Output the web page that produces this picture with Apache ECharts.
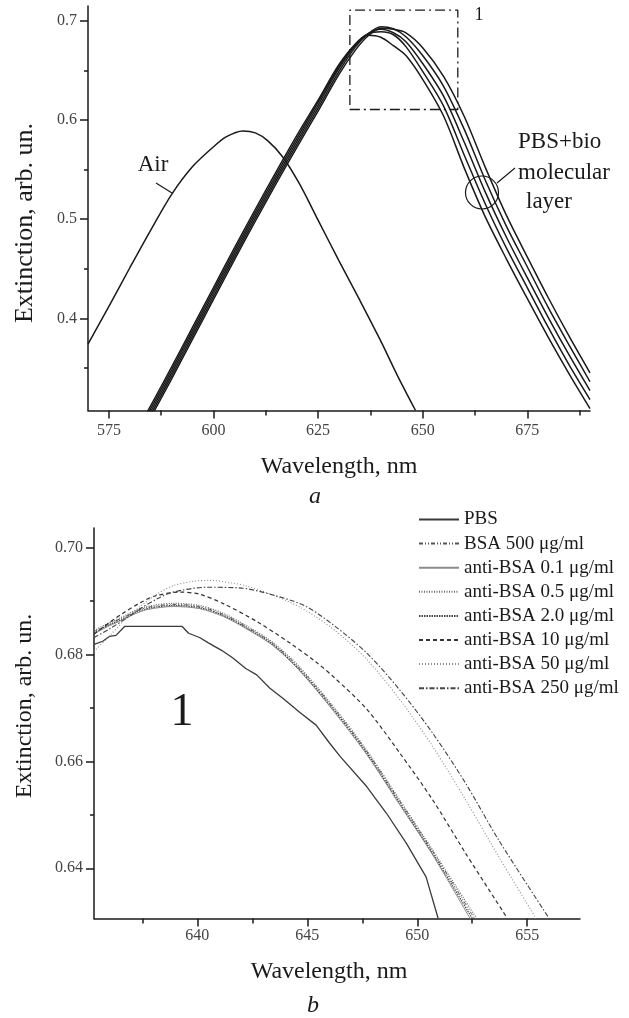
<!DOCTYPE html>
<html>
<head>
<meta charset="utf-8">
<script src="https://cdn.jsdelivr.net/npm/echarts@6/dist/echarts.min.js"></script>
<style>
  html, body { margin: 0; padding: 0; background: #fff; }
  #chart { width: 629px; height: 1018px; }
</style>
</head>
<body>
<div id="chart"></div>
<script>
// ---------- panel a : full spectra (nm, extinction) ----------
const airSpectrum = [[570.0,0.374],[575,0.412],[580,0.451],[585,0.489],[590,0.525],[595,0.553],[600,0.573],[603,0.583],[607,0.589],[610,0.587],[613,0.579],[616.5,0.563],[620.5,0.536],[625,0.499],[630,0.458],[635,0.418],[640,0.377],[644,0.342],[648.3,0.307]];
const layerPBS = [[583,0.297],[585,0.312],[590,0.351],[595,0.391],[600,0.431],[605,0.471],[610,0.510],[615,0.548],[620,0.585],[625,0.620],[630,0.656],[634,0.677],[637,0.6855],[640,0.6835],[643,0.675],[646,0.665],[650,0.641],[655,0.604],[660,0.551],[665,0.502],[670,0.460],[675,0.420],[680,0.381],[685,0.344],[690,0.309]];
const layerBSA = [[583,0.294],[585,0.309],[590,0.348],[595,0.388],[600,0.428],[605,0.468],[610,0.507],[615,0.545],[620,0.582],[625,0.618],[630,0.654],[634,0.677],[637,0.687],[640,0.689],[643,0.686],[646,0.674],[650,0.649],[655,0.614],[660,0.564],[665,0.515],[670,0.471],[675,0.431],[680,0.391],[685,0.353],[690,0.318]];
const layer10 = [[583,0.291],[585,0.306],[590,0.345],[595,0.385],[600,0.425],[605,0.465],[610,0.504],[615,0.542],[620,0.579],[625,0.615],[630,0.652],[634,0.676],[637,0.687],[640,0.6915],[643,0.688],[646,0.679],[650,0.657],[655,0.624],[660,0.577],[665,0.527],[670,0.482],[675,0.441],[680,0.401],[685,0.363],[690,0.327]];
const layer50 = [[583,0.288],[585,0.303],[590,0.342],[595,0.382],[600,0.422],[605,0.462],[610,0.501],[615,0.539],[620,0.576],[625,0.612],[630,0.649],[634,0.674],[637,0.687],[640,0.694],[643,0.692],[646,0.684],[650,0.665],[655,0.634],[660,0.590],[665,0.539],[670,0.493],[675,0.452],[680,0.411],[685,0.373],[690,0.336]];
const layer250 = [[583,0.285],[585,0.300],[590,0.339],[595,0.379],[600,0.419],[605,0.459],[610,0.498],[615,0.536],[620,0.573],[625,0.609],[630,0.646],[634,0.671],[637,0.685],[640,0.6926],[643,0.6915],[646,0.688],[650,0.673],[655,0.644],[660,0.603],[665,0.552],[670,0.504],[675,0.462],[680,0.421],[685,0.382],[690,0.345]];
// dash-dot frame "1" (region enlarged in panel b)
const zoomFrame = [[632.6,0.6106],[658.4,0.6106],[658.4,0.7108],[632.6,0.7108],[632.6,0.6106]];

// ---------- panel b : enlarged peak region ----------
const pbs = [[635.3,0.6819],[635.7,0.6825],[636.0,0.6834],[636.3,0.6836],[636.7,0.6853],[639.3,0.6853],[639.6,0.6840],[640.1,0.6832],[640.5,0.6822],[641.1,0.6808],[641.6,0.6794],[642.2,0.6774],[642.7,0.6762],[643.3,0.6737],[643.9,0.6718],[644.65,0.6692],[645.4,0.6668],[646.0,0.6635],[646.5,0.6609],[647.7,0.6553],[648.6,0.6503],[649.5,0.6447],[650.4,0.6384],[650.95,0.6306]];
const bsa500 = [[635.3,0.6843],[636.0,0.6858],[636.6,0.6869],[637.2,0.6881],[637.8,0.6889],[638.9,0.6894],[640.1,0.6890],[641.2,0.6875],[642.2,0.6853],[643.4,0.6822],[644.6,0.6777],[646.2,0.6700],[647.7,0.6619],[649.2,0.6526],[650.7,0.6432],[652.6,0.6306]];
const anti01 = [[635.3,0.6839],[636.0,0.6854],[636.6,0.6865],[637.2,0.6877],[637.8,0.6885],[638.9,0.6890],[640.1,0.6886],[641.2,0.6871],[642.2,0.6849],[643.4,0.6818],[644.6,0.6772],[646.2,0.6694],[647.7,0.6613],[649.2,0.6519],[650.7,0.6425],[652.4,0.6306]];
const anti05 = [[635.3,0.6845],[636.0,0.6860],[636.6,0.6871],[637.2,0.6883],[637.8,0.6891],[638.9,0.6896],[640.1,0.6892],[641.2,0.6877],[642.2,0.6855],[643.4,0.6824],[644.6,0.6779],[646.2,0.6702],[647.7,0.6621],[649.2,0.6528],[650.7,0.6434],[652.7,0.6306]];
const anti20 = [[635.3,0.6841],[636.0,0.6856],[636.6,0.6867],[637.2,0.6879],[637.8,0.6887],[638.9,0.6892],[640.1,0.6888],[641.2,0.6873],[642.2,0.6851],[643.4,0.6820],[644.6,0.6774],[646.2,0.6697],[647.7,0.6616],[649.2,0.6522],[650.7,0.6428],[652.5,0.6306]];
const anti10 = [[635.3,0.6838],[636.0,0.6860],[636.6,0.6877],[637.4,0.6897],[638.1,0.6910],[639.2,0.6917],[640.1,0.6913],[641.2,0.6895],[642.7,0.6862],[644.2,0.6822],[645.4,0.6786],[646.2,0.6758],[647.7,0.6698],[649.2,0.6616],[650.7,0.6528],[652.2,0.6428],[654.1,0.6306]];
const anti50 = [[635.3,0.6806],[636.0,0.6835],[636.7,0.6865],[637.4,0.6890],[638.2,0.6914],[638.9,0.6929],[639.8,0.6937],[640.6,0.6939],[641.4,0.6935],[642.2,0.6929],[643.4,0.6912],[644.7,0.6888],[646.2,0.6847],[647.7,0.6791],[649.2,0.6716],[650.7,0.6628],[652.2,0.6528],[653.7,0.6422],[655.4,0.6306]];
const anti250 = [[635.3,0.6832],[636.0,0.6848],[636.7,0.6866],[637.4,0.6886],[638.2,0.6905],[638.9,0.6917],[640.4,0.6926],[641.9,0.6925],[643.4,0.6912],[644.9,0.6891],[646.2,0.6855],[647.7,0.6803],[649.2,0.6734],[650.7,0.6653],[652.2,0.6559],[653.7,0.6453],[656.0,0.6306]];

const legendNames = ['PBS', 'BSA 500 μg/ml', 'anti-BSA 0.1 μg/ml', 'anti-BSA 0.5 μg/ml',
  'anti-BSA 2.0 μg/ml', 'anti-BSA 10 μg/ml', 'anti-BSA 50 μg/ml', 'anti-BSA 250 μg/ml'];

// tick positions
const aXLabels = [575, 600, 625, 650, 675];
const aXMinor = [587.5, 612.5, 637.5, 662.5, 687.5];
const aYLabels = [0.4, 0.5, 0.6, 0.7];
const aYMinor = [0.35, 0.45, 0.55, 0.65];
const bXLabels = [640, 645, 650, 655];
const bXMinor = [637.5, 642.5, 647.5, 652.5];
const bYLabels = [0.64, 0.66, 0.68, 0.70];
const bYMinor = [0.65, 0.67, 0.69];

const FONT = '"Liberation Serif", "Times New Roman", serif';
const INK = '#1a1a1a';

// one axis; a second copy without line/labels carries the short minor ticks
function axis(grid, pos, min, max, ticks, tickLen, labels, margin, fmt) {
  return {
    type: 'value', gridIndex: grid, position: pos, min: min, max: max,
    axisLine: { show: !!labels, onZero: false, lineStyle: { color: INK, width: 1.5 } },
    axisTick: { show: true, length: tickLen, customValues: ticks, lineStyle: { color: INK, width: 1.5 } },
    axisLabel: labels ? {
      customValues: labels, margin: margin, fontFamily: FONT, fontSize: 16, color: '#444', formatter: fmt
    } : { show: false },
    splitLine: { show: false }
  };
}

function aLine(name, data) {
  return { name: name, type: 'line', xAxisIndex: 0, yAxisIndex: 0, data: data, symbol: 'none',
    smooth: 0.3, lineStyle: { color: INK, width: 1.5 }, silent: true, z: 3 };
}
function bLine(name, data, color, width, type, smooth) {
  return { name: name, type: 'line', xAxisIndex: 2, yAxisIndex: 2, data: data, symbol: 'none',
    smooth: smooth, itemStyle: { color: color },
    lineStyle: { color: color, width: width, type: type }, silent: true };
}

function label(text, x, y, size, extra, font) {
  return Object.assign({ type: 'text', x: x, y: y, silent: true,
    style: { text: text, font: (font || '') + size + 'px ' + FONT, fill: INK,
      textAlign: (extra && extra.align) || 'center', textVerticalAlign: 'middle', verticalAlign: 'middle' } },
    extra && extra.rotation ? { rotation: extra.rotation } : {});
}

const chart = echarts.init(document.getElementById('chart'));
chart.setOption({
  animation: false,
  backgroundColor: '#fff',
  grid: [
    { left: 88, top: 6, width: 502, height: 404.5 },
    { left: 94, top: 528, width: 486, height: 390.5 }
  ],
  xAxis: [
    axis(0, 'bottom', 570, 690, aXLabels, 8, aXLabels, 12, v => v),
    axis(0, 'bottom', 570, 690, aXMinor, 5, null),
    axis(1, 'bottom', 635.3, 657.4, bXLabels, 8, bXLabels, 9, v => v),
    axis(1, 'bottom', 635.3, 657.4, bXMinor, 5, null)
  ],
  yAxis: [
    axis(0, 'left', 0.307, 0.715, aYLabels, 8, aYLabels, 11, v => v.toFixed(1)),
    axis(0, 'left', 0.307, 0.715, aYMinor, 4, null),
    axis(1, 'left', 0.6306, 0.7037, bYLabels, 8, bYLabels, 11, v => v.toFixed(2)),
    axis(1, 'left', 0.6306, 0.7037, bYMinor, 4, null)
  ],
  legend: {
    data: legendNames, orient: 'vertical', left: 413, top: 505,
    itemWidth: 40, itemHeight: 12, itemGap: 5.1, selectedMode: false,
    itemStyle: { opacity: 0, color: 'transparent', borderWidth: 0 },
    textStyle: { fontFamily: FONT, fontSize: 19, color: INK }
  },
  series: [
    aLine('Air', airSpectrum),
    aLine('layer PBS', layerPBS),
    aLine('layer BSA', layerBSA),
    aLine('layer 10', layer10),
    aLine('layer 50', layer50),
    aLine('layer 250', layer250),
    { name: 'frame', type: 'line', xAxisIndex: 0, yAxisIndex: 0, data: zoomFrame, symbol: 'none',
      lineStyle: { color: INK, width: 1.3, type: [10, 4, 2, 4] }, silent: true },
    bLine(legendNames[0], pbs, '#3a3a3a', 1.3, 'solid', false),
    bLine(legendNames[1], bsa500, '#555', 1, [4, 2, 1, 2, 1, 2], 0.3),
    bLine(legendNames[2], anti01, '#8c8c8c', 1, 'solid', 0.3),
    bLine(legendNames[3], anti05, '#6a6a6a', 1.2, [1, 1.5], 0.3),
    bLine(legendNames[4], anti20, '#444', 1.2, [1.5, 1], 0.3),
    bLine(legendNames[5], anti10, '#333', 1.2, [4, 3], 0.3),
    bLine(legendNames[6], anti50, '#8c8c8c', 1.1, [1, 2], 0.3),
    bLine(legendNames[7], anti250, '#444', 1.1, [5, 2, 1.5, 2], 0.3)
  ],
  graphic: [
    // axis titles
    label('Extinction, arb. un.', 25, 223, 26, { rotation: Math.PI / 2 }),
    label('Wavelength, nm', 339, 467, 24),
    label('Extinction, arb. un.', 25, 706, 24, { rotation: Math.PI / 2 }),
    label('Wavelength, nm', 329, 972, 24),
    // panel letters
    label('a', 315, 497, 24, null, 'italic '),
    label('b', 313, 1006, 24, null, 'italic '),
    // panel a annotations
    label('Air', 153, 165, 23),
    { type: 'line', silent: true, shape: { x1: 156, y1: 183, x2: 172, y2: 193 }, style: { stroke: INK, lineWidth: 1.2 } },
    label('PBS+bio', 518, 142, 23, { align: 'left' }),
    label('molecular', 518, 173, 23, { align: 'left' }),
    label('layer', 526, 202, 23, { align: 'left' }),
    { type: 'circle', silent: true, shape: { cx: 482, cy: 192.5, r: 16.5 }, style: { fill: 'none', stroke: INK, lineWidth: 1.2 } },
    { type: 'line', silent: true, shape: { x1: 497, y1: 183, x2: 515, y2: 168 }, style: { stroke: INK, lineWidth: 1.2 } },
    label('1', 479, 15, 18),
    // panel b region number
    label('1', 182, 713, 46)
  ]
});
</script>
</body>
</html>
